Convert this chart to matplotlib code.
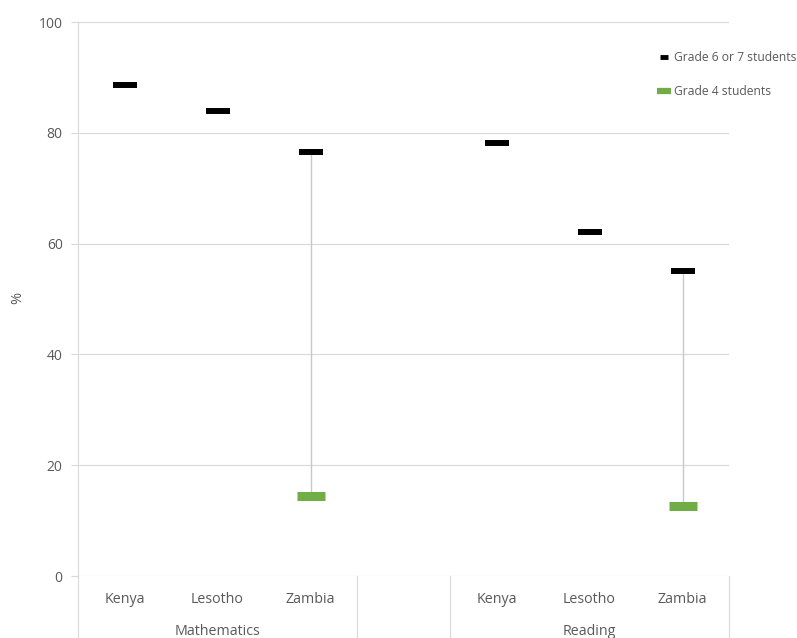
import numpy as np
import matplotlib as mpl
mpl.use("Agg")
from matplotlib import pyplot as plt
import matplotlib.transforms as mtransforms
from matplotlib.lines import Line2D
from matplotlib.markers import MarkerStyle

plt.rcParams["font.family"] = ["Open Sans", "DejaVu Sans"]

countries = ["Kenya", "Lesotho", "Zambia", "", "Kenya", "Lesotho", "Zambia"]
groups = ["Mathematics", "Reading"]
grade6 = [88.6, 84.0, 76.5, np.nan, 78.2, 62.1, 55.1]
grade4 = [np.nan, np.nan, 14.5, np.nan, np.nan, np.nan, 12.6]

txt = "#595959"
grid = "#d9d9d9"
green = "#70ad47"

fig = plt.figure(figsize=(7.97, 6.38), dpi=100)
ax = fig.add_axes([78/797, 62/638, 651/797, 554/638])

x = np.arange(len(countries))
g6 = np.array(grade6)
g4 = np.array(grade4)

dash = MarkerStyle("_", capstyle="butt")

# connector lines
for xi, a, b in zip(x, g6, g4):
    if not np.isnan(a) and not np.isnan(b):
        ax.plot([xi, xi], [b, a], color="#c8c8c8", lw=1.0, zorder=2)

ax.plot(x, g6, linestyle="none", marker=dash, ms=17.5, mew=4.3, color="black",
        zorder=3)
ax.plot(x, g4, linestyle="none", marker=dash, ms=19.5, mew=6.5, color=green,
        zorder=3)

ax.set_xlim(-0.5, len(countries) - 0.5)
ax.set_ylim(0, 100)
ax.set_yticks(np.arange(0, 101, 20))
ax.yaxis.grid(True, color=grid, lw=0.8)
ax.set_axisbelow(True)
for s in ["top", "right", "bottom"]:
    ax.spines[s].set_visible(False)
ax.spines["left"].set_color(grid)
ax.tick_params(axis="y", colors=grid, labelcolor=txt, labelsize=10, length=5, pad=6)
ax.tick_params(axis="x", length=0, labelbottom=False)
fig.text(18/797, 1 - 298/638, "%", rotation=90, ha="center", va="center",
         fontsize=10.5, color=txt)

# category axis
trans = mtransforms.blended_transform_factory(ax.transData, ax.transAxes)
for xs in [-0.5, 2.5, 3.5, len(countries) - 0.5]:
    ax.add_line(Line2D([xs, xs], [0, -0.12], transform=trans, color=grid,
                       lw=0.8, clip_on=False))
for xi, c in zip(x, countries):
    ax.text(xi, -0.043, c, transform=trans, ha="center", va="center",
            fontsize=10.3, color=txt)
ax.text(1, -0.1, groups[0], transform=trans, ha="center", va="center",
        fontsize=10.3, color=txt)
ax.text(5, -0.1, groups[1], transform=trans, ha="center", va="center",
        fontsize=10.3, color=txt)

handles = [
    Line2D([], [], linestyle="none", marker=dash, ms=5.5, mew=3.5, color="black"),
    Line2D([], [], linestyle="none", marker=dash, ms=9.5, mew=4.5, color=green),
]
labels = ["Grade 6 or 7 students", "Grade 4 students"]
leg = fig.legend(handles, labels, loc="upper left",
                 bbox_to_anchor=(659/797, 1 - 51/638),
                 frameon=False, handlelength=0.9, handletextpad=0.3,
                 labelspacing=1.75, fontsize=8.7, borderaxespad=0, borderpad=0)
for t in leg.get_texts():
    t.set_color(txt)

fig.savefig("out.png", dpi=100)
